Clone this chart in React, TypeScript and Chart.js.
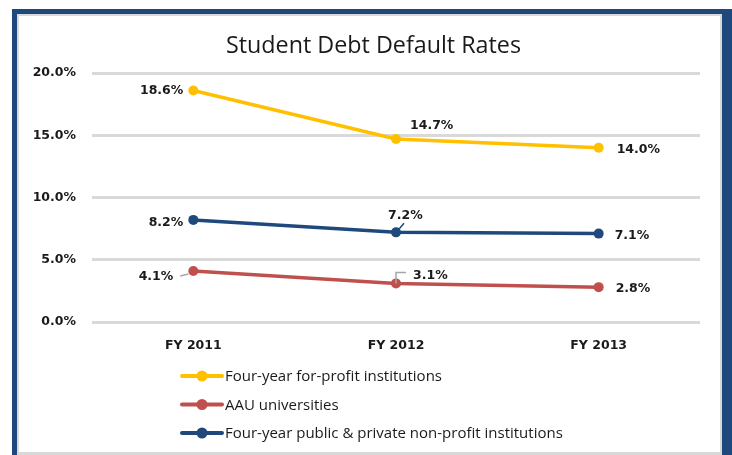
import React, { useEffect, useRef } from 'react';
import { Chart, registerables } from 'chart.js';

Chart.register(...registerables);

const chartTitle = 'Student Debt Default Rates';
const categories = ['FY 2011', 'FY 2012', 'FY 2013'];
const seriesNames = [
  'Four-year for-profit institutions',
  'AAU universities',
  'Four-year public & private non-profit institutions',
];
const forProfit = [18.6, 14.7, 14.0];
const aau = [4.1, 3.1, 2.8];
const nonProfit = [8.2, 7.2, 7.1];
const yMin = 0;
const yMax = 20;
const yStep = 5;

const seriesColors = ['#FFC000', '#C0504D', '#1F497D'];

// label placement relative to each point (style only)
type Place = { align: CanvasTextAlign; dx: number; dy: number; leader?: number[][]; leaderColor?: string };
const placements: Place[][] = [
  [
    { align: 'right', dx: -10, dy: 0 },
    { align: 'left', dx: 14, dy: -13 },
    { align: 'left', dx: 18, dy: 2 },
  ],
  [
    { align: 'right', dx: -20, dy: 6, leader: [[-13, 5], [-5, 3]], leaderColor: '#a6a6a6' },
    { align: 'left', dx: 17, dy: -8, leader: [[0, 0], [0, -11], [10, -11]], leaderColor: '#a6a6a6' },
    { align: 'left', dx: 17, dy: 2 },
  ],
  [
    { align: 'right', dx: -10, dy: 3 },
    { align: 'left', dx: -8, dy: -17, leader: [[2, -2], [8, -9]], leaderColor: '#1F497D' },
    { align: 'left', dx: 16, dy: 2 },
  ],
];

const TEXT = '#1a1a1a';
const LABEL_FONT = 'bold 12.5px "DejaVu Sans"';

const titlePlugin = {
  id: 'offsetTitle',
  afterDraw(chart: any) {
    const ctx = chart.ctx as CanvasRenderingContext2D;
    ctx.save();
    ctx.font = '23.3px "Open Sans"';
    ctx.fillStyle = TEXT;
    ctx.textAlign = 'center';
    ctx.textBaseline = 'middle';
    ctx.fillText(chartTitle, (chart.chartArea.right + 28) / 2, 30.5);
    ctx.restore();
  },
};

const labelPlugin = {
  id: 'pointLabels',
  afterDatasetsDraw(chart: any) {
    const ctx = chart.ctx as CanvasRenderingContext2D;
    chart.data.datasets.forEach((ds: any, i: number) => {
      const meta = chart.getDatasetMeta(i);
      meta.data.forEach((pt: any, j: number) => {
        const p = placements[i][j];
        const x = pt.x;
        const y = pt.y;
        ctx.save();
        if (p.leader) {
          ctx.beginPath();
          ctx.strokeStyle = p.leaderColor || '#a6a6a6';
          ctx.lineWidth = 1.5;
          p.leader.forEach(([lx, ly], k) => {
            if (k === 0) ctx.moveTo(x + lx, y + ly);
            else ctx.lineTo(x + lx, y + ly);
          });
          ctx.stroke();
        }
        ctx.font = LABEL_FONT;
        ctx.fillStyle = TEXT;
        ctx.textAlign = p.align;
        ctx.textBaseline = 'middle';
        ctx.fillText(`${Number(ds.data[j]).toFixed(1)}%`, x + p.dx, y + p.dy);
        ctx.restore();
      });
    });
  },
};

const legendPlugin = {
  id: 'stackedLegend',
  afterDraw(chart: any) {
    const ctx = chart.ctx as CanvasRenderingContext2D;
    const x0 = chart.chartArea.left + 90;
    const y0 = chart.chartArea.bottom + 54;
    const gap = 28.5;
    chart.data.datasets.forEach((ds: any, i: number) => {
      const y = y0 + i * gap;
      ctx.save();
      ctx.strokeStyle = ds.borderColor;
      ctx.lineWidth = 4;
      ctx.lineCap = 'round';
      ctx.beginPath();
      ctx.moveTo(x0, y);
      ctx.lineTo(x0 + 40, y);
      ctx.stroke();
      ctx.beginPath();
      ctx.fillStyle = ds.borderColor;
      ctx.arc(x0 + 20, y, 5.5, 0, Math.PI * 2);
      ctx.fill();
      ctx.font = '15px "Open Sans"';
      ctx.fillStyle = TEXT;
      ctx.textAlign = 'left';
      ctx.textBaseline = 'middle';
      ctx.fillText(ds.label, x0 + 43, y + 1);
      ctx.restore();
    });
  },
};

export default function App() {
  const ref = useRef<HTMLCanvasElement | null>(null);

  useEffect(() => {
    if (!ref.current) return;
    const values = [forProfit, aau, nonProfit];
    const chart = new Chart(ref.current, {
      type: 'line',
      data: {
        labels: categories,
        datasets: values.map((v, i) => ({
          label: seriesNames[i],
          data: v,
          borderColor: seriesColors[i],
          backgroundColor: seriesColors[i],
          pointBackgroundColor: seriesColors[i],
          pointBorderColor: seriesColors[i],
          borderWidth: 3.5,
          pointRadius: 5,
          pointBorderWidth: 0,
          tension: 0,
          fill: false,
        })),
      },
      options: {
        animation: false,
        responsive: false,
        maintainAspectRatio: false,
        devicePixelRatio: 1,
        layout: { padding: { left: 0, right: 20, top: 57, bottom: 83 } },
        plugins: {
          legend: { display: false },
          tooltip: { enabled: false },
          title: { display: false },
        },
        scales: {
          x: {
            offset: true,
            grid: { display: false, drawTicks: false },
            border: { display: false },
            ticks: {
              color: TEXT,
              padding: 16,
              font: { family: 'DejaVu Sans', size: 12.5, weight: 'bold' },
            },
          },
          y: {
            min: yMin,
            max: yMax,
            afterFit: (scale: any) => {
              scale.width = 73;
            },
            grid: { color: '#d9d9d9', lineWidth: 3, drawTicks: false },
            border: { display: false },
            ticks: {
              stepSize: yStep,
              color: TEXT,
              padding: 16,
              font: { family: 'DejaVu Sans', size: 12.5, weight: 'bold' },
              callback: (v: any) => `${Number(v).toFixed(1)}%`,
            },
          },
        },
      },
      plugins: [titlePlugin, labelPlugin, legendPlugin],
    });
    return () => chart.destroy();
  }, []);

  return (
    <div
      style={{
        position: 'absolute',
        left: 0,
        top: 0,
        width: 732,
        height: 455,
        overflow: 'hidden',
        background: '#ffffff',
      }}
    >
      <div style={{ position: 'absolute', left: 12, top: 9, width: 740, height: 470, background: '#1F497D' }} />
      <div style={{ position: 'absolute', left: 17, top: 14, width: 705, height: 441, background: '#d9d9d9' }} />
      <div style={{ position: 'absolute', left: 19, top: 16, width: 701, height: 436, background: '#ffffff' }}>
        <canvas ref={ref} width={701} height={436} style={{ display: 'block', width: 701, height: 436 }} />
      </div>
    </div>
  );
}
